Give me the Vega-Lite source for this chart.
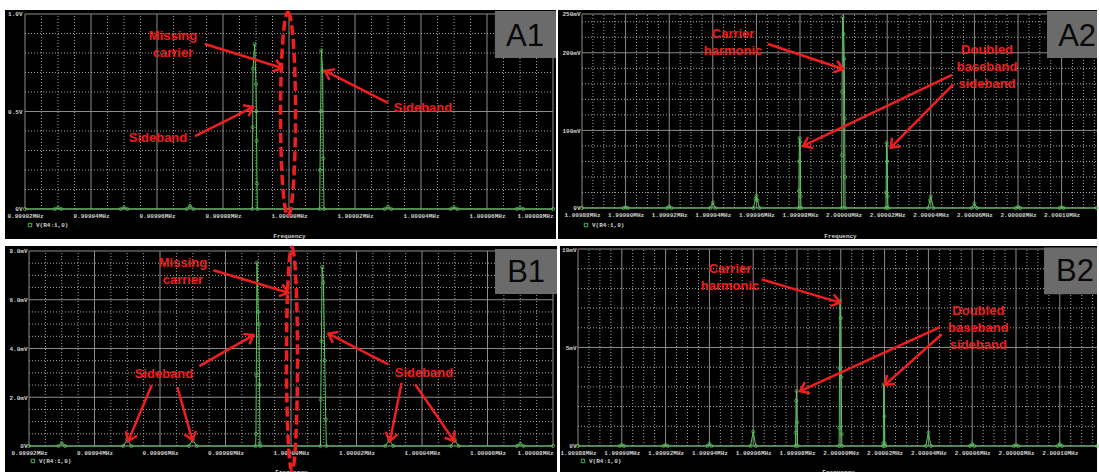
{
  "$schema": "https://vega.github.io/schema/vega-lite/v6.json",
  "background": "#ffffff",
  "padding": {"left": 5, "top": 5, "right": 0, "bottom": 0},
  "config": {
    "view": {"stroke": null},
    "axis": {"domain": false, "ticks": false, "grid": false, "labelFont": "Liberation Mono", "labelFontSize": 6, "labelFontWeight": "bold", "labelColor": "#d2d2d2", "titleFont": "Liberation Mono", "titleFontSize": 6, "titleColor": "#d2d2d2", "titleFontWeight": "bold", "labelOverlap": false, "labelFlush": false, "labelBound": false, "labelAngle": 0},
    "legend": {"labelFont": "Liberation Mono", "labelFontSize": 6, "labelFontWeight": "bold", "labelColor": "#d2d2d2", "symbolType": "square", "symbolSize": 12, "symbolStrokeWidth": 1, "labelOffset": 3, "padding": 0}
  },
  "datasets": {
    "gx1": [
      {"f": 999920, "t": "M"}, {"f": 999925, "t": "m"}, {"f": 999930, "t": "m"}, {"f": 999935, "t": "m"},
      {"f": 999940, "t": "M"}, {"f": 999945, "t": "m"}, {"f": 999950, "t": "m"}, {"f": 999955, "t": "m"},
      {"f": 999960, "t": "M"}, {"f": 999965, "t": "m"}, {"f": 999970, "t": "m"}, {"f": 999975, "t": "m"},
      {"f": 999980, "t": "M"}, {"f": 999985, "t": "m"}, {"f": 999990, "t": "m"}, {"f": 999995, "t": "m"},
      {"f": 1000000, "t": "M"}, {"f": 1000005, "t": "m"}, {"f": 1000010, "t": "m"}, {"f": 1000015, "t": "m"},
      {"f": 1000020, "t": "M"}, {"f": 1000025, "t": "m"}, {"f": 1000030, "t": "m"}, {"f": 1000035, "t": "m"},
      {"f": 1000040, "t": "M"}, {"f": 1000045, "t": "m"}, {"f": 1000050, "t": "m"}, {"f": 1000055, "t": "m"},
      {"f": 1000060, "t": "M"}, {"f": 1000065, "t": "m"}, {"f": 1000070, "t": "m"}, {"f": 1000075, "t": "m"},
      {"f": 1000080, "t": "M"}
    ],
    "gx2": [
      {"f": 1999880, "t": "M"}, {"f": 1999885, "t": "m"}, {"f": 1999890, "t": "m"}, {"f": 1999895, "t": "m"},
      {"f": 1999900, "t": "M"}, {"f": 1999905, "t": "m"}, {"f": 1999910, "t": "m"}, {"f": 1999915, "t": "m"},
      {"f": 1999920, "t": "M"}, {"f": 1999925, "t": "m"}, {"f": 1999930, "t": "m"}, {"f": 1999935, "t": "m"},
      {"f": 1999940, "t": "M"}, {"f": 1999945, "t": "m"}, {"f": 1999950, "t": "m"}, {"f": 1999955, "t": "m"},
      {"f": 1999960, "t": "M"}, {"f": 1999965, "t": "m"}, {"f": 1999970, "t": "m"}, {"f": 1999975, "t": "m"},
      {"f": 1999980, "t": "M"}, {"f": 1999985, "t": "m"}, {"f": 1999990, "t": "m"}, {"f": 1999995, "t": "m"},
      {"f": 2000000, "t": "M"}, {"f": 2000005, "t": "m"}, {"f": 2000010, "t": "m"}, {"f": 2000015, "t": "m"},
      {"f": 2000020, "t": "M"}, {"f": 2000025, "t": "m"}, {"f": 2000030, "t": "m"}, {"f": 2000035, "t": "m"},
      {"f": 2000040, "t": "M"}, {"f": 2000045, "t": "m"}, {"f": 2000050, "t": "m"}, {"f": 2000055, "t": "m"},
      {"f": 2000060, "t": "M"}, {"f": 2000065, "t": "m"}, {"f": 2000070, "t": "m"}, {"f": 2000075, "t": "m"},
      {"f": 2000080, "t": "M"}, {"f": 2000085, "t": "m"}, {"f": 2000090, "t": "m"}, {"f": 2000095, "t": "m"},
      {"f": 2000100, "t": "M"}, {"f": 2000105, "t": "m"}, {"f": 2000110, "t": "m"}, {"f": 2000115, "t": "m"}
    ],
    "gyA1": [
      {"v": 0, "t": "M"}, {"v": 0.1, "t": "m"}, {"v": 0.2, "t": "m"}, {"v": 0.3, "t": "m"}, {"v": 0.4, "t": "m"},
      {"v": 0.5, "t": "M"}, {"v": 0.6, "t": "m"}, {"v": 0.7, "t": "m"}, {"v": 0.8, "t": "m"}, {"v": 0.9, "t": "m"},
      {"v": 1.0, "t": "M"}
    ],
    "gyA2": [
      {"v": 0, "t": "M"}, {"v": 20, "t": "m"}, {"v": 40, "t": "m"}, {"v": 60, "t": "m"}, {"v": 80, "t": "m"},
      {"v": 100, "t": "M"}, {"v": 120, "t": "m"}, {"v": 140, "t": "m"}, {"v": 160, "t": "m"}, {"v": 180, "t": "m"},
      {"v": 200, "t": "M"}, {"v": 220, "t": "m"}, {"v": 240, "t": "m"}, {"v": 250, "t": "M"}
    ],
    "gyB1": [
      {"v": 0, "t": "M"}, {"v": 0.5, "t": "m"}, {"v": 1.0, "t": "m"}, {"v": 1.5, "t": "m"},
      {"v": 2, "t": "M"}, {"v": 2.5, "t": "m"}, {"v": 3.0, "t": "m"}, {"v": 3.5, "t": "m"},
      {"v": 4, "t": "M"}, {"v": 4.5, "t": "m"}, {"v": 5.0, "t": "m"}, {"v": 5.5, "t": "m"},
      {"v": 6, "t": "M"}, {"v": 6.5, "t": "m"}, {"v": 7.0, "t": "m"}, {"v": 7.5, "t": "m"},
      {"v": 8, "t": "M"}
    ],
    "gyB2": [
      {"v": 0, "t": "M"}, {"v": 1, "t": "m"}, {"v": 2, "t": "m"}, {"v": 3, "t": "m"}, {"v": 4, "t": "m"},
      {"v": 5, "t": "M"}, {"v": 6, "t": "m"}, {"v": 7, "t": "m"}, {"v": 8, "t": "m"}, {"v": 9, "t": "m"},
      {"v": 10, "t": "M"}
    ],
    "a1": [
      {"f": 999920, "v": 0},
      {"f": 999929, "v": 0}, {"f": 999930, "v": 0.006}, {"f": 999931, "v": 0},
      {"f": 999949, "v": 0}, {"f": 999950, "v": 0.008}, {"f": 999951, "v": 0},
      {"f": 999969, "v": 0}, {"f": 999970, "v": 0.016}, {"f": 999971, "v": 0},
      {"f": 999988.9, "v": 0}, {"f": 999989.0, "v": 0.42}, {"f": 999989.1, "v": 0.72}, {"f": 999989.6, "v": 0.846},
      {"f": 999990.0, "v": 0.64}, {"f": 999990.1, "v": 0.5}, {"f": 999990.2, "v": 0.35}, {"f": 999990.3, "v": 0.13},
      {"f": 999990.4, "v": 0},
      {"f": 1000009.3, "v": 0}, {"f": 1000009.4, "v": 0.2}, {"f": 1000009.6, "v": 0.5}, {"f": 1000009.8, "v": 0.814},
      {"f": 1000010.2, "v": 0.708}, {"f": 1000010.4, "v": 0.26}, {"f": 1000010.6, "v": 0},
      {"f": 1000029, "v": 0}, {"f": 1000030, "v": 0.012}, {"f": 1000031, "v": 0},
      {"f": 1000049, "v": 0}, {"f": 1000050, "v": 0.008}, {"f": 1000051, "v": 0},
      {"f": 1000069, "v": 0}, {"f": 1000070, "v": 0.005}, {"f": 1000071, "v": 0},
      {"f": 1000080, "v": 0}
    ],
    "a2": [
      {"f": 1999880, "v": 0},
      {"f": 1999899, "v": 0}, {"f": 1999900, "v": 1}, {"f": 1999901, "v": 0},
      {"f": 1999919, "v": 0}, {"f": 1999920, "v": 2}, {"f": 1999921, "v": 0},
      {"f": 1999938.8, "v": 0}, {"f": 1999940, "v": 7}, {"f": 1999941.2, "v": 0},
      {"f": 1999958.6, "v": 0}, {"f": 1999959.6, "v": 12}, {"f": 1999960, "v": 16}, {"f": 1999960.5, "v": 10}, {"f": 1999961.4, "v": 0},
      {"f": 1999979.4, "v": 0}, {"f": 1999979.5, "v": 22}, {"f": 1999979.6, "v": 60}, {"f": 1999979.8, "v": 90},
      {"f": 1999980.1, "v": 85}, {"f": 1999980.3, "v": 15}, {"f": 1999980.5, "v": 0},
      {"f": 1999999.1, "v": 0}, {"f": 1999999.2, "v": 68}, {"f": 1999999.3, "v": 150}, {"f": 1999999.5, "v": 246},
      {"f": 2000000.0, "v": 224}, {"f": 2000000.3, "v": 192}, {"f": 2000000.5, "v": 115}, {"f": 2000000.6, "v": 40},
      {"f": 2000000.7, "v": 0},
      {"f": 2000019.4, "v": 0}, {"f": 2000019.5, "v": 20}, {"f": 2000019.7, "v": 84}, {"f": 2000020.0, "v": 60},
      {"f": 2000020.2, "v": 15}, {"f": 2000020.4, "v": 0},
      {"f": 2000038.8, "v": 0}, {"f": 2000039.6, "v": 10}, {"f": 2000040, "v": 15}, {"f": 2000041.2, "v": 0},
      {"f": 2000058.8, "v": 0}, {"f": 2000060, "v": 6}, {"f": 2000061.2, "v": 0},
      {"f": 2000079, "v": 0}, {"f": 2000080, "v": 1.5}, {"f": 2000081, "v": 0},
      {"f": 2000099, "v": 0}, {"f": 2000100, "v": 1}, {"f": 2000101, "v": 0},
      {"f": 2000116, "v": 0}
    ],
    "b1": [
      {"f": 999920, "v": 0},
      {"f": 999929, "v": 0}, {"f": 999930, "v": 0.12}, {"f": 999931, "v": 0},
      {"f": 999948.8, "v": 0}, {"f": 999950, "v": 0.27}, {"f": 999951.2, "v": 0},
      {"f": 999968.8, "v": 0}, {"f": 999970, "v": 0.26}, {"f": 999971.2, "v": 0},
      {"f": 999989.2, "v": 0}, {"f": 999989.3, "v": 0.5}, {"f": 999989.4, "v": 2.9}, {"f": 999989.6, "v": 7.52},
      {"f": 999990.0, "v": 5.5}, {"f": 999990.2, "v": 5.0}, {"f": 999990.4, "v": 2.5}, {"f": 999990.5, "v": 0.1},
      {"f": 999990.6, "v": 0},
      {"f": 1000009.0, "v": 0}, {"f": 1000009.1, "v": 1.9}, {"f": 1000009.3, "v": 4.3}, {"f": 1000009.5, "v": 7.35},
      {"f": 1000009.9, "v": 6.7}, {"f": 1000010.3, "v": 3.5}, {"f": 1000010.6, "v": 1.1}, {"f": 1000010.8, "v": 0},
      {"f": 1000028.8, "v": 0}, {"f": 1000030, "v": 0.25}, {"f": 1000031.2, "v": 0},
      {"f": 1000048.8, "v": 0}, {"f": 1000050, "v": 0.25}, {"f": 1000051.2, "v": 0},
      {"f": 1000069, "v": 0}, {"f": 1000070, "v": 0.1}, {"f": 1000071, "v": 0},
      {"f": 1000080, "v": 0}
    ],
    "b2": [
      {"f": 1999880, "v": 0},
      {"f": 1999899, "v": 0}, {"f": 1999900, "v": 0.05}, {"f": 1999901, "v": 0},
      {"f": 1999919, "v": 0}, {"f": 1999920, "v": 0.05}, {"f": 1999921, "v": 0},
      {"f": 1999939, "v": 0}, {"f": 1999940, "v": 0.12}, {"f": 1999941, "v": 0},
      {"f": 1999958.8, "v": 0}, {"f": 1999960, "v": 0.73}, {"f": 1999961.2, "v": 0},
      {"f": 1999979.3, "v": 0}, {"f": 1999979.4, "v": 0.68}, {"f": 1999979.6, "v": 2.3}, {"f": 1999979.8, "v": 2.79},
      {"f": 1999980.1, "v": 1.2}, {"f": 1999980.3, "v": 0},
      {"f": 1999999.2, "v": 0}, {"f": 1999999.3, "v": 0.93}, {"f": 1999999.4, "v": 3.96}, {"f": 1999999.6, "v": 7.36},
      {"f": 2000000.0, "v": 6.5}, {"f": 2000000.2, "v": 3.5}, {"f": 2000000.4, "v": 0.6}, {"f": 2000000.5, "v": 0},
      {"f": 2000019.3, "v": 0}, {"f": 2000019.4, "v": 0.15}, {"f": 2000019.6, "v": 3.13}, {"f": 2000019.9, "v": 1.5},
      {"f": 2000020.1, "v": 0.1}, {"f": 2000020.3, "v": 0},
      {"f": 2000038.8, "v": 0}, {"f": 2000040, "v": 0.68}, {"f": 2000041.2, "v": 0},
      {"f": 2000059, "v": 0}, {"f": 2000060, "v": 0.1}, {"f": 2000061, "v": 0},
      {"f": 2000079, "v": 0}, {"f": 2000080, "v": 0.05}, {"f": 2000081, "v": 0},
      {"f": 2000099, "v": 0}, {"f": 2000100, "v": 0.1}, {"f": 2000101, "v": 0},
      {"f": 2000117, "v": 0}
    ],
    "a1txt": [
      {"f": 999964.85, "v": 0.8872, "text": "Missing\ncarrier"},
      {"f": 999960.3, "v": 0.364, "text": "Sideband"},
      {"f": 1000040.6, "v": 0.518, "text": "Sideband"}
    ],
    "a1arr": [
      {"f": 999974.5, "v": 0.846, "f2": 999997.9, "v2": 0.723, "a": 17.3},
      {"f": 999971.5, "v": 0.374, "f2": 999989.1, "v2": 0.523, "a": -27.3},
      {"f": 1000030.0, "v": 0.544, "f2": 1000010.9, "v2": 0.708, "a": 206.9}
    ],
    "a1oval": [{"f": 999999.7, "v": 0.487}],
    "a1tag": [{"f": 1000062.4, "f2": 1000080.91, "v": 1.0154, "v2": 0.774, "fc": 1000071.5, "vc": 0.882, "text": "A1"}],
    "a2txt": [
      {"f": 1999949.3, "v": 224.2, "text": "Carrier\nharmonic"},
      {"f": 2000065.8, "v": 203.6, "text": "Doubled\nbaseband\nsideband"}
    ],
    "a2arr": [
      {"f": 1999965.3, "v": 211.3, "f2": 1999999.7, "v2": 179.1, "a": 18.4},
      {"f": 2000049.7, "v": 171.4, "f2": 1999981.5, "v2": 79.9, "a": 154.4},
      {"f": 2000050.3, "v": 159.4, "f2": 2000021.6, "v2": 77.7, "a": 134.6}
    ],
    "a2tag": [{"f": 2000093.3, "f2": 2000116.23, "v": 253.9, "v2": 193.3, "fc": 2000107.1, "vc": 220.4, "text": "A2"}],
    "b1txt": [
      {"f": 999967.0, "v": 7.51, "text": "Missing\ncarrier"},
      {"f": 999961.2, "v": 2.94, "text": "Sideband"},
      {"f": 1000040.6, "v": 3.01, "text": "Sideband"}
    ],
    "b1arr": [
      {"f": 999976.3, "v": 7.21, "f2": 999999.2, "v2": 6.29, "a": 16.6},
      {"f": 999972.0, "v": 3.28, "f2": 999988.5, "v2": 4.55, "a": -29.9},
      {"f": 999957.5, "v": 2.5, "f2": 999950.3, "v2": 0.205, "a": 112.7},
      {"f": 999965.3, "v": 2.42, "f2": 999969.9, "v2": 0.234, "a": 74.3},
      {"f": 1000029.7, "v": 3.35, "f2": 1000011.4, "v2": 4.61, "a": 207.0},
      {"f": 1000033.8, "v": 2.6, "f2": 1000030.2, "v2": 0.205, "a": 101.3},
      {"f": 1000037.9, "v": 2.53, "f2": 1000049.8, "v2": 0.205, "a": 55.5}
    ],
    "b1oval": [{"f": 1000000.3, "v": 3.57}],
    "b1tag": [{"f": 1000062.3, "f2": 1000081.22, "v": 8.08, "v2": 6.24, "fc": 1000071.8, "vc": 7.08, "text": "B1"}],
    "b2txt": [
      {"f": 1999949.4, "v": 8.97, "text": "Carrier\nharmonic"},
      {"f": 2000062.8, "v": 6.85, "text": "Doubled\nbaseband\nsideband"}
    ],
    "b2arr": [
      {"f": 1999963.9, "v": 8.46, "f2": 1999999.6, "v2": 7.28, "a": 16.6},
      {"f": 2000045.3, "v": 6.04, "f2": 1999981.4, "v2": 2.79, "a": 155.4},
      {"f": 2000046.1, "v": 5.67, "f2": 2000020.2, "v2": 3.1, "a": 138.2}
    ],
    "b2tag": [{"f": 2000092.8, "f2": 2000117.0, "v": 10.07, "v2": 7.7, "fc": 2000106.9, "vc": 8.83, "text": "B2"}]
  },
  "spacing": 0,
  "resolve": {"scale": {"color": "independent"}, "legend": {"color": "independent"}},
  "vconcat": [
    {
      "spacing": 2,
      "bounds": "flush",
      "resolve": {"scale": {"color": "independent"}, "legend": {"color": "independent"}},
      "hconcat": [
        {
          "width": 551, "height": 229,
          "view": {"fill": "#000000", "stroke": null},
          "layer": [
            {"data": {"name": "gx1"}, "transform": [{"filter": "datum.t == 'm'"}], "mark": {"type": "rule", "color": "#a8a8a8", "strokeWidth": 1, "strokeDash": [1, 2]},
             "encoding": {"x": {"field": "f", "type": "quantitative"}, "y": {"datum": 0, "type": "quantitative"}, "y2": {"datum": 1}}},
            {"data": {"name": "gx1"}, "transform": [{"filter": "datum.t == 'M'"}], "mark": {"type": "rule", "color": "#8c8c8c", "strokeWidth": 1},
             "encoding": {"x": {"field": "f", "type": "quantitative"}, "y": {"datum": 0, "type": "quantitative"}, "y2": {"datum": 1}}},
            {"data": {"name": "gyA1"}, "transform": [{"filter": "datum.t == 'm'"}], "mark": {"type": "rule", "color": "#a8a8a8", "strokeWidth": 1, "strokeDash": [1, 2]},
             "encoding": {"y": {"field": "v", "type": "quantitative"}, "x": {"datum": 999920, "type": "quantitative"}, "x2": {"datum": 1000080}}},
            {"data": {"name": "gyA1"}, "transform": [{"filter": "datum.t == 'M'"}], "mark": {"type": "rule", "color": "#8c8c8c", "strokeWidth": 1},
             "encoding": {"y": {"field": "v", "type": "quantitative"}, "x": {"datum": 999920, "type": "quantitative"}, "x2": {"datum": 1000080}}},
            {"data": {"name": "a1"}, "mark": {"type": "line", "strokeWidth": 1},
             "encoding": {
               "x": {"field": "f", "type": "quantitative", "scale": {"domain": [999913.94, 1000080.91], "nice": false, "zero": false},
                     "axis": {"values": [999920, 999940, 999960, 999980, 1000000, 1000020, 1000040, 1000060, 1000080], "labelExpr": "format(datum.value / 1000000, '.5f') + 'MHz'",
                              "labelAlign": {"condition": {"test": "datum.value == 1000080", "value": "right"}, "value": "center"},
                              "offset": -30, "labelPadding": 3, "title": "Frequency", "titleX": 284, "titleY": 26, "titleBaseline": "middle"}},
               "y": {"field": "v", "type": "quantitative", "scale": {"domain": [-0.15385, 1.02051], "nice": false, "zero": false},
                     "axis": {"values": [0, 0.5, 1], "labelExpr": "datum.value == 0 ? '0V' : format(datum.value, '.1f') + 'V'", "offset": -20, "labelPadding": 3, "title": null}},
               "color": {"datum": "V(R4:1,0)", "type": "nominal", "scale": {"range": ["#5cc85c"]}, "legend": {"orient": "none", "legendX": 22, "legendY": 212, "title": null}}
             }},
            {"data": {"name": "a1"}, "mark": {"type": "point", "filled": false, "size": 10, "strokeWidth": 0.8, "opacity": 0.9},
             "encoding": {"x": {"field": "f", "type": "quantitative"}, "y": {"field": "v", "type": "quantitative"}, "color": {"datum": "V(R4:1,0)", "type": "nominal"}}},
            {"data": {"name": "a1tag"}, "mark": {"type": "rect", "color": "#6b6b6b"},
             "encoding": {"x": {"field": "f", "type": "quantitative"}, "x2": {"field": "f2"}, "y": {"field": "v", "type": "quantitative"}, "y2": {"field": "v2"}}},
            {"data": {"name": "a1tag"}, "mark": {"type": "text", "font": "Liberation Sans", "fontSize": 31, "color": "#080808"},
             "encoding": {"x": {"field": "fc", "type": "quantitative"}, "y": {"field": "vc", "type": "quantitative"}, "text": {"field": "text"}}},
            {"data": {"name": "a1oval"}, "mark": {"type": "point", "shape": "M0,-1C0.0405,-1 0.0735,-0.5523 0.0735,0C0.0735,0.5523 0.0405,1 0,1C-0.0405,1 -0.0735,0.5523 -0.0735,0C-0.0735,-0.5523 -0.0405,-1 0,-1Z", "size": 41616, "filled": false, "color": "#f01e1e", "strokeWidth": 3.5, "strokeDash": [10, 4], "opacity": 1},
             "encoding": {"x": {"field": "f", "type": "quantitative"}, "y": {"field": "v", "type": "quantitative"}}},
            {"data": {"name": "a1arr"}, "mark": {"type": "rule", "color": "#f01e1e", "strokeWidth": 2.5},
             "encoding": {"x": {"field": "f", "type": "quantitative"}, "y": {"field": "v", "type": "quantitative"}, "x2": {"field": "f2"}, "y2": {"field": "v2"}}},
            {"data": {"name": "a1arr"}, "mark": {"type": "point", "shape": "M-1,-0.75L0,0L-1,0.75", "size": 260, "filled": false, "color": "#f01e1e", "strokeWidth": 2.5, "opacity": 1},
             "encoding": {"x": {"field": "f2", "type": "quantitative"}, "y": {"field": "v2", "type": "quantitative"}, "angle": {"field": "a", "type": "quantitative", "scale": null}}},
            {"data": {"name": "a1txt"}, "mark": {"type": "text", "font": "Liberation Sans", "fontWeight": "bold", "fontSize": 13, "color": "#f01e1e", "lineBreak": "\n", "lineHeight": 17},
             "encoding": {"x": {"field": "f", "type": "quantitative"}, "y": {"field": "v", "type": "quantitative"}, "text": {"field": "text"}}}
          ]
        },
        {
          "width": 539, "height": 229,
          "view": {"fill": "#000000", "stroke": null},
          "layer": [
            {"data": {"name": "gx2"}, "transform": [{"filter": "datum.t == 'm'"}], "mark": {"type": "rule", "color": "#a8a8a8", "strokeWidth": 1, "strokeDash": [1, 2]},
             "encoding": {"x": {"field": "f", "type": "quantitative"}, "y": {"datum": 0, "type": "quantitative"}, "y2": {"datum": 250}}},
            {"data": {"name": "gx2"}, "transform": [{"filter": "datum.t == 'M'"}], "mark": {"type": "rule", "color": "#8c8c8c", "strokeWidth": 1},
             "encoding": {"x": {"field": "f", "type": "quantitative"}, "y": {"datum": 0, "type": "quantitative"}, "y2": {"datum": 250}}},
            {"data": {"name": "gyA2"}, "transform": [{"filter": "datum.t == 'm'"}], "mark": {"type": "rule", "color": "#a8a8a8", "strokeWidth": 1, "strokeDash": [1, 2]},
             "encoding": {"y": {"field": "v", "type": "quantitative"}, "x": {"datum": 1999880, "type": "quantitative"}, "x2": {"datum": 2000116.23}}},
            {"data": {"name": "gyA2"}, "transform": [{"filter": "datum.t == 'M'"}], "mark": {"type": "rule", "color": "#8c8c8c", "strokeWidth": 1},
             "encoding": {"y": {"field": "v", "type": "quantitative"}, "x": {"datum": 1999880, "type": "quantitative"}, "x2": {"datum": 2000116.23}}},
            {"data": {"name": "a2"}, "mark": {"type": "line", "strokeWidth": 1},
             "encoding": {
               "x": {"field": "f", "type": "quantitative", "scale": {"domain": [1999868.99, 2000116.23], "nice": false, "zero": false},
                     "axis": {"values": [1999880, 1999900, 1999920, 1999940, 1999960, 1999980, 2000000, 2000020, 2000040, 2000060, 2000080, 2000100], "labelExpr": "format(datum.value / 1000000, '.5f') + 'MHz'",
                              "offset": -31, "labelPadding": 3, "title": "Frequency", "titleX": 282, "titleY": 27, "titleBaseline": "middle"}},
               "y": {"field": "v", "type": "quantitative", "scale": {"domain": [-39.95, 255.15], "nice": false, "zero": false},
                     "axis": {"values": [0, 100, 200, 250], "labelExpr": "datum.value == 0 ? '0V' : datum.value + 'mV'", "offset": -24, "labelPadding": 2, "title": null}},
               "color": {"datum": "V(R4:1,0)", "type": "nominal", "scale": {"range": ["#5cc85c"]}, "legend": {"orient": "none", "legendX": 25, "legendY": 212, "title": null}}
             }},
            {"data": {"name": "a2"}, "mark": {"type": "point", "filled": false, "size": 10, "strokeWidth": 0.8, "opacity": 0.9},
             "encoding": {"x": {"field": "f", "type": "quantitative"}, "y": {"field": "v", "type": "quantitative"}, "color": {"datum": "V(R4:1,0)", "type": "nominal"}}},
            {"data": {"name": "a2tag"}, "mark": {"type": "rect", "color": "#6b6b6b"},
             "encoding": {"x": {"field": "f", "type": "quantitative"}, "x2": {"field": "f2"}, "y": {"field": "v", "type": "quantitative"}, "y2": {"field": "v2"}}},
            {"data": {"name": "a2tag"}, "mark": {"type": "text", "font": "Liberation Sans", "fontSize": 31, "color": "#080808"},
             "encoding": {"x": {"field": "fc", "type": "quantitative"}, "y": {"field": "vc", "type": "quantitative"}, "text": {"field": "text"}}},
            {"data": {"name": "a2arr"}, "mark": {"type": "rule", "color": "#f01e1e", "strokeWidth": 2.5},
             "encoding": {"x": {"field": "f", "type": "quantitative"}, "y": {"field": "v", "type": "quantitative"}, "x2": {"field": "f2"}, "y2": {"field": "v2"}}},
            {"data": {"name": "a2arr"}, "mark": {"type": "point", "shape": "M-1,-0.75L0,0L-1,0.75", "size": 260, "filled": false, "color": "#f01e1e", "strokeWidth": 2.5, "opacity": 1},
             "encoding": {"x": {"field": "f2", "type": "quantitative"}, "y": {"field": "v2", "type": "quantitative"}, "angle": {"field": "a", "type": "quantitative", "scale": null}}},
            {"data": {"name": "a2txt"}, "mark": {"type": "text", "font": "Liberation Sans", "fontWeight": "bold", "fontSize": 13, "color": "#f01e1e", "lineBreak": "\n", "lineHeight": 17},
             "encoding": {"x": {"field": "f", "type": "quantitative"}, "y": {"field": "v", "type": "quantitative"}, "text": {"field": "text"}}}
          ]
        }
      ]
    },
    {
      "spacing": 3,
      "bounds": "flush",
      "resolve": {"scale": {"color": "independent"}, "legend": {"color": "independent"}},
      "hconcat": [
        {
          "width": 552, "height": 227,
          "view": {"fill": "#000000", "stroke": null},
          "layer": [
            {"data": {"name": "gx1"}, "transform": [{"filter": "datum.t == 'm'"}], "mark": {"type": "rule", "color": "#a8a8a8", "strokeWidth": 1, "strokeDash": [1, 2]},
             "encoding": {"x": {"field": "f", "type": "quantitative"}, "y": {"datum": 0, "type": "quantitative"}, "y2": {"datum": 8}}},
            {"data": {"name": "gx1"}, "transform": [{"filter": "datum.t == 'M'"}], "mark": {"type": "rule", "color": "#8c8c8c", "strokeWidth": 1},
             "encoding": {"x": {"field": "f", "type": "quantitative"}, "y": {"datum": 0, "type": "quantitative"}, "y2": {"datum": 8}}},
            {"data": {"name": "gyB1"}, "transform": [{"filter": "datum.t == 'm'"}], "mark": {"type": "rule", "color": "#a8a8a8", "strokeWidth": 1, "strokeDash": [1, 2]},
             "encoding": {"y": {"field": "v", "type": "quantitative"}, "x": {"datum": 999920, "type": "quantitative"}, "x2": {"datum": 1000080}}},
            {"data": {"name": "gyB1"}, "transform": [{"filter": "datum.t == 'M'"}], "mark": {"type": "rule", "color": "#8c8c8c", "strokeWidth": 1},
             "encoding": {"y": {"field": "v", "type": "quantitative"}, "x": {"datum": 999920, "type": "quantitative"}, "x2": {"datum": 1000080}}},
            {"data": {"name": "b1"}, "mark": {"type": "line", "strokeWidth": 1},
             "encoding": {
               "x": {"field": "f", "type": "quantitative", "scale": {"domain": [999912.67, 1000081.22], "nice": false, "zero": false},
                     "axis": {"values": [999920, 999940, 999960, 999980, 1000000, 1000020, 1000040, 1000060, 1000080], "labelExpr": "format(datum.value / 1000000, '.5f') + 'MHz'",
                              "labelAlign": {"condition": {"test": "datum.value == 1000080", "value": "right"}, "value": "center"},
                              "offset": -27, "labelPadding": 3, "title": "Frequency", "titleX": 286, "titleY": 25, "titleBaseline": "middle"}},
               "y": {"field": "v", "type": "quantitative", "scale": {"domain": [-1.1077, 8.2051], "nice": false, "zero": false},
                     "axis": {"values": [0, 2, 4, 6, 8], "labelExpr": "datum.value == 0 ? '0V' : format(datum.value, '.1f') + 'mV'", "offset": -24, "labelPadding": 2, "title": null}},
               "color": {"datum": "V(R4:1,0)", "type": "nominal", "scale": {"range": ["#5cc85c"]}, "legend": {"orient": "none", "legendX": 25, "legendY": 212, "title": null}}
             }},
            {"data": {"name": "b1"}, "mark": {"type": "point", "filled": false, "size": 10, "strokeWidth": 0.8, "opacity": 0.9},
             "encoding": {"x": {"field": "f", "type": "quantitative"}, "y": {"field": "v", "type": "quantitative"}, "color": {"datum": "V(R4:1,0)", "type": "nominal"}}},
            {"data": {"name": "b1tag"}, "mark": {"type": "rect", "color": "#6b6b6b"},
             "encoding": {"x": {"field": "f", "type": "quantitative"}, "x2": {"field": "f2"}, "y": {"field": "v", "type": "quantitative"}, "y2": {"field": "v2"}}},
            {"data": {"name": "b1tag"}, "mark": {"type": "text", "font": "Liberation Sans", "fontSize": 31, "color": "#080808"},
             "encoding": {"x": {"field": "fc", "type": "quantitative"}, "y": {"field": "vc", "type": "quantitative"}, "text": {"field": "text"}}},
            {"data": {"name": "b1oval"}, "mark": {"type": "point", "shape": "M0,-1C0.0271,-1 0.0491,-0.5523 0.0491,0C0.0491,0.5523 0.0271,1 0,1C-0.0271,1 -0.0491,0.5523 -0.0491,0C-0.0491,-0.5523 -0.0271,-1 0,-1Z", "size": 50176, "filled": false, "color": "#f01e1e", "strokeWidth": 3.5, "strokeDash": [10, 4], "opacity": 1},
             "encoding": {"x": {"field": "f", "type": "quantitative"}, "y": {"field": "v", "type": "quantitative"}}},
            {"data": {"name": "b1arr"}, "mark": {"type": "rule", "color": "#f01e1e", "strokeWidth": 2.5},
             "encoding": {"x": {"field": "f", "type": "quantitative"}, "y": {"field": "v", "type": "quantitative"}, "x2": {"field": "f2"}, "y2": {"field": "v2"}}},
            {"data": {"name": "b1arr"}, "mark": {"type": "point", "shape": "M-1,-0.75L0,0L-1,0.75", "size": 260, "filled": false, "color": "#f01e1e", "strokeWidth": 2.5, "opacity": 1},
             "encoding": {"x": {"field": "f2", "type": "quantitative"}, "y": {"field": "v2", "type": "quantitative"}, "angle": {"field": "a", "type": "quantitative", "scale": null}}},
            {"data": {"name": "b1txt"}, "mark": {"type": "text", "font": "Liberation Sans", "fontWeight": "bold", "fontSize": 13, "color": "#f01e1e", "lineBreak": "\n", "lineHeight": 17},
             "encoding": {"x": {"field": "f", "type": "quantitative"}, "y": {"field": "v", "type": "quantitative"}, "text": {"field": "text"}}}
          ]
        },
        {
          "width": 537, "height": 227,
          "view": {"fill": "#000000", "stroke": null},
          "layer": [
            {"data": {"name": "gx2"}, "transform": [{"filter": "datum.t == 'm'"}], "mark": {"type": "rule", "color": "#a8a8a8", "strokeWidth": 1, "strokeDash": [1, 2]},
             "encoding": {"x": {"field": "f", "type": "quantitative"}, "y": {"datum": 0, "type": "quantitative"}, "y2": {"datum": 10}}},
            {"data": {"name": "gx2"}, "transform": [{"filter": "datum.t == 'M'"}], "mark": {"type": "rule", "color": "#8c8c8c", "strokeWidth": 1},
             "encoding": {"x": {"field": "f", "type": "quantitative"}, "y": {"datum": 0, "type": "quantitative"}, "y2": {"datum": 10}}},
            {"data": {"name": "gyB2"}, "transform": [{"filter": "datum.t == 'm'"}], "mark": {"type": "rule", "color": "#a8a8a8", "strokeWidth": 1, "strokeDash": [1, 2]},
             "encoding": {"y": {"field": "v", "type": "quantitative"}, "x": {"datum": 1999880, "type": "quantitative"}, "x2": {"datum": 2000117}}},
            {"data": {"name": "gyB2"}, "transform": [{"filter": "datum.t == 'M'"}], "mark": {"type": "rule", "color": "#8c8c8c", "strokeWidth": 1},
             "encoding": {"y": {"field": "v", "type": "quantitative"}, "x": {"datum": 1999880, "type": "quantitative"}, "x2": {"datum": 2000117}}},
            {"data": {"name": "b2"}, "mark": {"type": "line", "strokeWidth": 1},
             "encoding": {
               "x": {"field": "f", "type": "quantitative", "scale": {"domain": [1999871.78, 2000116.99], "nice": false, "zero": false},
                     "axis": {"values": [1999880, 1999900, 1999920, 1999940, 1999960, 1999980, 2000000, 2000020, 2000040, 2000060, 2000080, 2000100], "labelExpr": "format(datum.value / 1000000, '.5f') + 'MHz'",
                              "offset": -27, "labelPadding": 3, "title": "Frequency", "titleX": 278, "titleY": 25, "titleBaseline": "middle"}},
               "y": {"field": "v", "type": "quantitative", "scale": {"domain": [-1.3706, 10.1523], "nice": false, "zero": false},
                     "axis": {"values": [0, 5, 10], "labelExpr": "datum.value == 0 ? '0V' : datum.value + 'mV'", "offset": -18, "labelPadding": 2, "title": null}},
               "color": {"datum": "V(R4:1,0)", "type": "nominal", "scale": {"range": ["#5cc85c"]}, "legend": {"orient": "none", "legendX": 20, "legendY": 212, "title": null}}
             }},
            {"data": {"name": "b2"}, "mark": {"type": "point", "filled": false, "size": 10, "strokeWidth": 0.8, "opacity": 0.9},
             "encoding": {"x": {"field": "f", "type": "quantitative"}, "y": {"field": "v", "type": "quantitative"}, "color": {"datum": "V(R4:1,0)", "type": "nominal"}}},
            {"data": {"name": "b2tag"}, "mark": {"type": "rect", "color": "#6b6b6b"},
             "encoding": {"x": {"field": "f", "type": "quantitative"}, "x2": {"field": "f2"}, "y": {"field": "v", "type": "quantitative"}, "y2": {"field": "v2"}}},
            {"data": {"name": "b2tag"}, "mark": {"type": "text", "font": "Liberation Sans", "fontSize": 31, "color": "#080808"},
             "encoding": {"x": {"field": "fc", "type": "quantitative"}, "y": {"field": "vc", "type": "quantitative"}, "text": {"field": "text"}}},
            {"data": {"name": "b2arr"}, "mark": {"type": "rule", "color": "#f01e1e", "strokeWidth": 2.5},
             "encoding": {"x": {"field": "f", "type": "quantitative"}, "y": {"field": "v", "type": "quantitative"}, "x2": {"field": "f2"}, "y2": {"field": "v2"}}},
            {"data": {"name": "b2arr"}, "mark": {"type": "point", "shape": "M-1,-0.75L0,0L-1,0.75", "size": 260, "filled": false, "color": "#f01e1e", "strokeWidth": 2.5, "opacity": 1},
             "encoding": {"x": {"field": "f2", "type": "quantitative"}, "y": {"field": "v2", "type": "quantitative"}, "angle": {"field": "a", "type": "quantitative", "scale": null}}},
            {"data": {"name": "b2txt"}, "mark": {"type": "text", "font": "Liberation Sans", "fontWeight": "bold", "fontSize": 13, "color": "#f01e1e", "lineBreak": "\n", "lineHeight": 17},
             "encoding": {"x": {"field": "f", "type": "quantitative"}, "y": {"field": "v", "type": "quantitative"}, "text": {"field": "text"}}}
          ]
        }
      ]
    }
  ]
}
